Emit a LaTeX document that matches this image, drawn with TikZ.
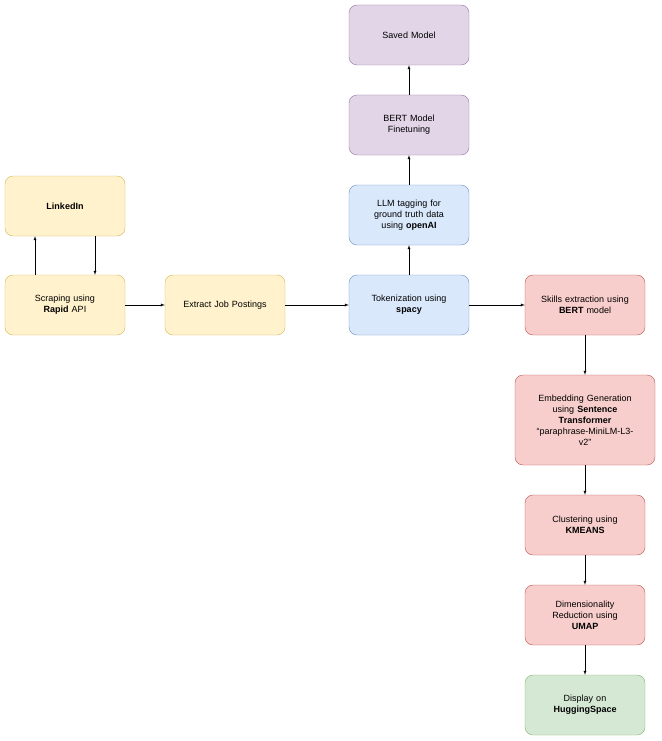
\documentclass[tikz,border=0pt]{standalone}
\usepackage{fontspec}
\setmainfont{Liberation Sans}
\usetikzlibrary{shapes,arrows,fit,positioning}
\definecolor{ylwF}{HTML}{FFF2CC}\definecolor{ylwD}{HTML}{D6B656}
\definecolor{bluF}{HTML}{DAE8FC}\definecolor{bluD}{HTML}{6C8EBF}
\definecolor{redF}{HTML}{F8CECC}\definecolor{redD}{HTML}{B85450}
\definecolor{purF}{HTML}{E1D5E7}\definecolor{purD}{HTML}{9673A6}
\definecolor{grnF}{HTML}{D5E8D4}\definecolor{grnD}{HTML}{82B366}

\begin{document}
\begin{tikzpicture}[x=1pt,y=-1pt,% styles for all boxes
				every node/.style={
					align=center,  		% "\\" line breaks
					font=\fontsize{9}{11}\selectfont,
					rectangle,rounded corners=8pt,
					minimum width=120pt,minimum height=60pt,
					text width=112pt
				},
				yel/.style={draw=ylwD,fill=ylwF},
				blu/.style={draw=bluD,fill=bluF},
				rd/.style={draw=redD,fill=redF},
				pur/.style={draw=purD,fill=purF},
				grn/.style={draw=grnD,fill=grnF},
				every edge/.style={draw,-latex}
			]
			\useasboundingbox (0,0) rectangle (661,741);
			\node[yel](Link) at (65,206){\textbf{LinkedIn}};
			\node[yel](Scrap) at (65,305){Scraping using\\\textbf{Rapid} API};
			\node[yel](Extr) at (225,305){Extract Job Postings};
			\node[blu](Tok) at (409,305){Tokenization using\\\textbf{spacy}};
			\node[blu](LLM) at (409,215){LLM tagging for\\ground truth data\\using \textbf{openAI}};
			\node[pur](Bert) at (409,125){BERT Model\\Finetuning};
			\node[pur](Save) at (409,35){Saved Model};
			\node[rd](Skill) at (585,305){Skills extraction using\\\textbf{BERT} model};
			\node[rd,minimum width=140pt,minimum height=90pt,text width=130pt](Emb) at (585,420){Embedding Generation\\using \textbf{Sentence}\\\textbf{Transformer}\\``paraphrase-MiniLM-L3-\\v2''};
			\node[rd](Clus) at (585,525){Clustering using\\\textbf{KMEANS}};
			\node[rd](Dim) at (585,615){Dimensionality\\Reduction using\\\textbf{UMAP}};
			\node[grn](Disp) at (585,705){Display on\\\textbf{HuggingSpace}};
			\path
			([xshift=-30pt]Scrap.north) edge ([xshift=-30pt]Link.south)
			([xshift=30pt]Link.south) edge ([xshift=30pt]Scrap.north)
			(Scrap) edge (Extr)
			(Extr) edge (Tok)
			(Tok) edge (LLM)
			(LLM) edge (Bert)
			(Bert) edge (Save)
			(Tok) edge (Skill)
			(Skill) edge (Emb)
			(Emb) edge (Clus)
			(Clus) edge (Dim)
			(Dim) edge (Disp)
			;
		\end{tikzpicture}
\end{document}
